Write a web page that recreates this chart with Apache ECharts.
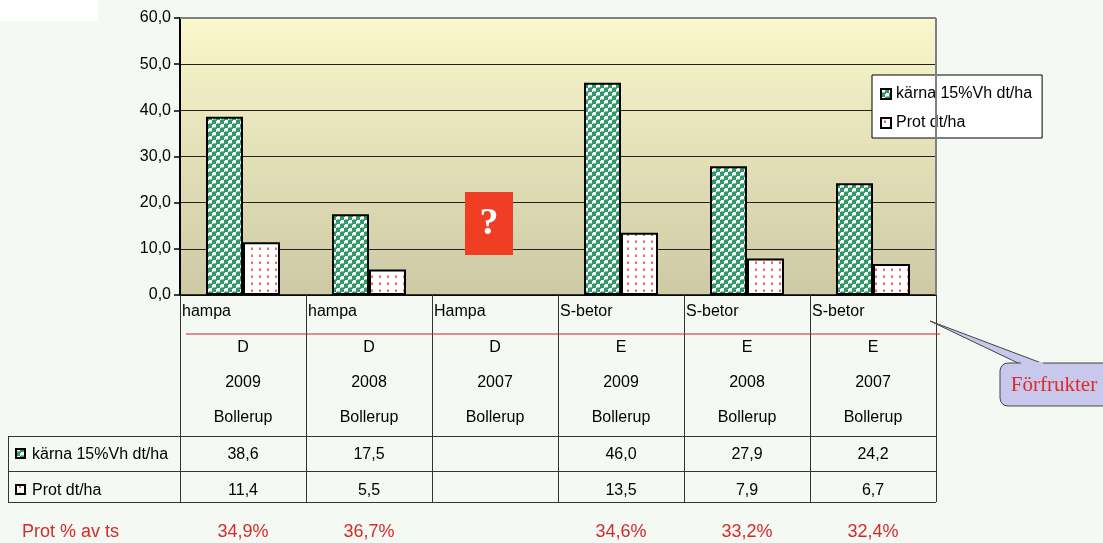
<!DOCTYPE html>
<html>
<head>
<meta charset="utf-8">
<script src="https://cdn.jsdelivr.net/npm/echarts@6/dist/echarts.min.js"></script>
<style>
html,body{margin:0;padding:0;background:#f4f9f4;}
#c{width:1103px;height:543px;}
</style>
</head>
<body>
<div id="c"></div>
<script>
var crops = ['hampa','hampa','Hampa','S-betor','S-betor','S-betor'];
var groups = ['D','D','D','E','E','E'];
var years = ['2009','2008','2007','2009','2008','2007'];
var sites = ['Bollerup','Bollerup','Bollerup','Bollerup','Bollerup','Bollerup'];
var karna = [38.6, 17.5, null, 46.0, 27.9, 24.2];
var prot = [11.4, 5.5, null, 13.5, 7.9, 6.7];
var protPct = ['34,9%','36,7%','','34,6%','33,2%','32,4%'];
var karnaName = 'kärna 15%Vh dt/ha';
var protName = 'Prot dt/ha';
var yTicks = [0,10,20,30,40,50,60];

function fmt(v){ return v == null ? '' : v.toFixed(1).replace('.', ','); }

function greenTile(){
  var c = document.createElement('canvas'); c.width = 8; c.height = 8;
  var g = c.getContext('2d');
  g.fillStyle = '#ffffff'; g.fillRect(0,0,8,8);
  g.fillStyle = '#2f9a68';
  g.fillRect(4,0,4,4); g.fillRect(0,4,4,4);
  g.fillRect(0,0,1,1); g.fillRect(4,4,1,1);
  g.fillStyle = '#7cc4a0';
  g.fillRect(1,3,3,1); g.fillRect(5,7,3,1);
  return c;
}
function pinkTile(){
  var c = document.createElement('canvas'); c.width = 8; c.height = 7;
  var g = c.getContext('2d');
  g.fillStyle = '#ffffff'; g.fillRect(0,0,8,7);
  g.fillStyle = '#f26a6a'; g.fillRect(3,3,2,2);
  g.fillStyle = '#f8b0b0'; g.fillRect(3,2,2,1);
  return c;
}

var chart = echarts.init(document.getElementById('c'));
var FONT = 'Liberation Sans, Arial, sans-serif';

var option = {
  backgroundColor: '#f4f9f4',
  animation: false,
  grid: {
    left: 180, right: 167, top: 18, bottom: 248,
    show: true,
    backgroundColor: new echarts.graphic.LinearGradient(0,0,0,1,[
      {offset:0,color:'#f9f7cb'},{offset:1,color:'#cdc9a5'}]),
    borderWidth: 0
  },
  legend: {
    orient: 'vertical', left: 872, top: 75,
    backgroundColor: '#ffffff', borderColor: '#000000', borderWidth: 1,
    padding: [11, 10, 7, 8], itemGap: 13, itemWidth: 10, itemHeight: 10,
    icon: 'rect',
    textStyle: {fontFamily: FONT, fontSize: 16, color: '#000'},
    data: [karnaName, protName]
  },
  xAxis: {
    type: 'category', data: crops,
    axisLine: {show: true, lineStyle: {color: '#000', width: 1.5}},
    axisTick: {show: false}, axisLabel: {show: false}
  },
  yAxis: {
    type: 'value', min: 0, max: 60, interval: 10,
    axisLine: {show: true, lineStyle: {color: '#000', width: 2}},
    axisTick: {show: true, length: 6, lineStyle: {color: '#000', width: 1.5}},
    axisLabel: {formatter: function(v){ return fmt(v); }, fontFamily: FONT, fontSize: 16, color: '#000', margin: 9},
    splitLine: {show: true, lineStyle: {color: '#222', width: 1}}
  },
  series: [
    {name: karnaName, type: 'bar', data: karna, barWidth: 37, barGap: '0%',
     itemStyle: {color: {image: greenTile(), repeat: 'repeat'}, borderColor: '#000', borderWidth: 2}},
    {name: protName, type: 'bar', data: prot, barWidth: 37, barGap: '0%',
     itemStyle: {color: {image: pinkTile(), repeat: 'repeat'}, borderColor: '#000', borderWidth: 2}}
  ]
};
chart.setOption(option);

function buildGraphics(){
  var els = [];
  var n = crops.length;
  var x0 = chart.convertToPixel({xAxisIndex:0}, 0);
  var x1 = chart.convertToPixel({xAxisIndex:0}, 1);
  var w = x1 - x0;
  var left = x0 - w/2, right = left + w*n;
  var yZero = chart.convertToPixel({yAxisIndex:0}, 0);
  var yTop = chart.convertToPixel({yAxisIndex:0}, 60);
  var lineC = '#333';
  var rowRed = yZero + 39, rowA = yZero + 141, rowB = yZero + 176, rowC = yZero + 207;
  var F16 = '16px ' + FONT, F18 = '18px ' + FONT;
  els.push({type:'rect', shape:{x:0,y:0,width:98,height:21}, style:{fill:'#ffffff'}, z:1});
  els.push({type:'line', shape:{x1:left,y1:yTop,x2:right,y2:yTop}, style:{stroke:'#808080',lineWidth:2}, z:5});
  els.push({type:'line', shape:{x1:right,y1:yTop,x2:right,y2:yZero}, style:{stroke:'#808080',lineWidth:2}, z:5});
  for (var i=0;i<=n;i++){
    var xb = Math.round(left + w*i) + 0.5;
    els.push({type:'line', shape:{x1:xb,y1:yZero,x2:xb,y2:rowC}, style:{stroke:lineC,lineWidth:1}, z:5});
  }
  els.push({type:'line', shape:{x1:left+6,y1:rowRed,x2:right+4,y2:rowRed}, style:{stroke:'#d62020',lineWidth:1}, z:5});
  [rowA,rowB,rowC].forEach(function(y){
    els.push({type:'line', shape:{x1:8,y1:y+0.5,x2:right,y2:y+0.5}, style:{stroke:lineC,lineWidth:1}, z:5});
  });
  els.push({type:'line', shape:{x1:8.5,y1:rowA,x2:8.5,y2:rowC}, style:{stroke:lineC,lineWidth:1}, z:5});
  for (var j=0;j<n;j++){
    var cx = chart.convertToPixel({xAxisIndex:0}, j);
    var cl = left + w*j;
    els.push({type:'text', x: cl+2, y: yZero+17, style:{text: crops[j], font:F16, fill:'#000', align:'left', verticalAlign:'middle'}, z:6});
    els.push({type:'text', x: cx, y: yZero+53, style:{text: groups[j], font:F16, fill:'#000', align:'center', verticalAlign:'middle'}, z:6});
    els.push({type:'text', x: cx, y: yZero+88, style:{text: years[j], font:F16, fill:'#000', align:'center', verticalAlign:'middle'}, z:6});
    els.push({type:'text', x: cx, y: yZero+123, style:{text: sites[j], font:F16, fill:'#000', align:'center', verticalAlign:'middle'}, z:6});
    els.push({type:'text', x: cx, y: yZero+160, style:{text: fmt(karna[j]), font:F16, fill:'#000', align:'center', verticalAlign:'middle'}, z:6});
    els.push({type:'text', x: cx, y: yZero+196, style:{text: fmt(prot[j]), font:F16, fill:'#000', align:'center', verticalAlign:'middle'}, z:6});
    els.push({type:'text', x: cx, y: yZero+237, style:{text: protPct[j], font:F18, fill:'#d42a2a', align:'center', verticalAlign:'middle'}, z:6});
  }
  els.push({type:'rect', shape:{x:16,y:yZero+154,width:9,height:9}, style:{fill:{image: greenTile(), repeat:'repeat'}, stroke:'#000', lineWidth:2}, z:6});
  els.push({type:'text', x: 32, y: yZero+160, style:{text: karnaName, font:F16, fill:'#000', align:'left', verticalAlign:'middle'}, z:6});
  els.push({type:'rect', shape:{x:16,y:yZero+190,width:9,height:9}, style:{fill:{image: pinkTile(), repeat:'repeat'}, stroke:'#000', lineWidth:2}, z:6});
  els.push({type:'text', x: 32, y: yZero+196, style:{text: protName, font:F16, fill:'#000', align:'left', verticalAlign:'middle'}, z:6});
  els.push({type:'text', x: 22, y: yZero+237, style:{text: 'Prot % av ts', font:F18, fill:'#d42a2a', align:'left', verticalAlign:'middle'}, z:6});
  var qx = chart.convertToPixel({xAxisIndex:0}, 2) - 6;
  var qy = chart.convertToPixel({yAxisIndex:0}, 15.6);
  els.push({type:'rect', shape:{x:qx-24,y:qy-31,width:48,height:63}, style:{fill:'#ef3e23'}, z:6});
  els.push({type:'text', x:qx, y:qy+1, style:{text:'?', font:'bold 38px Liberation Serif, serif', fill:'#ffffff', align:'center', verticalAlign:'middle'}, z:7});
  els.push({type:'polygon', shape:{points:[[930,321],[1020,364],[1044,364]]}, style:{fill:'#c8c8ec', stroke:'#444', lineWidth:1}, z:6});
  els.push({type:'rect', shape:{x:1000,y:363,width:112,height:43,r:8}, style:{fill:'#c8c8ec', stroke:'#444', lineWidth:1}, z:6});
  els.push({type:'rect', shape:{x:1021,y:362,width:22,height:3}, style:{fill:'#c8c8ec'}, z:7});
  els.push({type:'text', x:1054, y:385, style:{text:'Förfrukter', font:'21px Liberation Serif, serif', fill:'#e02a2a', align:'center', verticalAlign:'middle'}, z:8});
  chart.setOption({graphic: {elements: els}});
}
buildGraphics();
</script>
</body>
</html>
